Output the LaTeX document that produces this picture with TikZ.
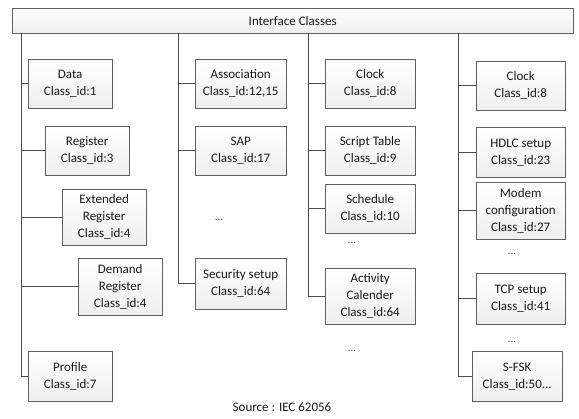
\documentclass[tikz,border=0pt]{standalone}
\usepackage{fontspec}
\setmainfont{Carlito}
\usepackage{tikz}
\usetikzlibrary{shadows}
\tikzset{
    class-box/.style = {draw=gray!75!black, thin, rectangle, top color=white, bottom color=gray!13, drop shadow={opacity=0.25, shadow xshift=1.2pt, shadow yshift=-1.2pt}, align=center, inner sep=2pt, anchor=north west, minimum height=49pt, font=\fontsize{13}{17}\selectfont, text=black!90},
    class-title/.style = {class-box, minimum width=561pt, minimum height=25pt},
    more-dots/.style = {font=\fontsize{11}{12}\selectfont, text=black!70},
    trunk/.style = {draw=black!70, thin},
}

\begin{document}
\begin{tikzpicture}[x=1pt, y=-1pt]
\useasboundingbox (0,0) rectangle (579,419);
\node[class-title] (title) at (12,8) {Interface Classes};

% column trunks
\coordinate (t1) at (21,33);
\coordinate (t2) at (178,33);
\coordinate (t3) at (308,33);
\coordinate (t4) at (458,33);

% first column
\node[class-box, minimum width=84pt] (data) at (28,59) {Data\\Class\_id:1};
\node[class-box, minimum width=84pt] (register) at (45,126) {Register\\Class\_id:3};
\node[class-box, minimum width=84pt, minimum height=56pt] (extreg) at (62,189) {Extended\\Register\\Class\_id:4};
\node[class-box, minimum width=84pt, minimum height=57pt] (demreg) at (78,258) {Demand\\Register\\Class\_id:4};
\node[class-box, minimum width=84pt, minimum height=50pt] (profile) at (28,351) {Profile\\Class\_id:7};

% second column
\node[class-box, minimum width=91pt] (assoc) at (195,59) {Association\\Class\_id:12,15};
\node[class-box, minimum width=91pt] (sap) at (195,126) {SAP\\Class\_id:17};
\node[more-dots] (dots2) at (219,220) {...};
\node[class-box, minimum width=91pt, minimum height=51pt] (security) at (195,258) {Security setup\\Class\_id:64};

% third column
\node[class-box, minimum width=90pt] (clock) at (325,59) {Clock\\Class\_id:8};
\node[class-box, minimum width=90pt] (script) at (325,126) {Script Table\\Class\_id:9};
\node[class-box, minimum width=90pt] (schedule) at (325,184) {Schedule\\Class\_id:10};
\node[more-dots] (dots3a) at (352,243) {...};
\node[class-box, minimum width=90pt, minimum height=56pt] (activity) at (325,268) {Activity\\Calender\\Class\_id:64};
\node[more-dots] (dots3b) at (352,351) {...};

% fourth column
\node[class-box, minimum width=89pt] (clockb) at (476,61) {Clock\\Class\_id:8};
\node[class-box, minimum width=89pt, minimum height=50pt] (hdlc) at (476,127) {HDLC setup\\Class\_id:23};
\node[class-box, minimum width=89pt, minimum height=57pt] (modem) at (476,182) {Modem\\configuration\\Class\_id:27};
\node[more-dots] (dots4a) at (512,254) {...};
\node[class-box, minimum width=89pt, minimum height=51pt] (tcp) at (476,273) {TCP setup\\Class\_id:41};
\node[more-dots] (dots4b) at (512,342) {...};
\node[class-box, minimum width=90pt, minimum height=50pt] (sfsk) at (472,351) {S-FSK\\Class\_id:50...};

\node[font=\fontsize{13}{15}\selectfont, text=black!90] (source) at (282,407) {Source : IEC 62056};

% connectors
\draw[trunk] (t1) -- (t1 |- profile.west) -- (profile.west);
\foreach \n in {data,register,extreg,demreg}
    \draw[trunk] (t1 |- \n.west) -- (\n.west);
\draw[trunk] (t2) -- (t2 |- security.west) -- (security.west);
\foreach \n in {assoc,sap}
    \draw[trunk] (t2 |- \n.west) -- (\n.west);
\draw[trunk] (t3) -- (t3 |- activity.west) -- (activity.west);
\foreach \n in {clock,script,schedule}
    \draw[trunk] (t3 |- \n.west) -- (\n.west);
\draw[trunk] (t4) -- (t4 |- sfsk.west) -- (sfsk.west);
\foreach \n in {clockb,hdlc,modem,tcp}
    \draw[trunk] (t4 |- \n.west) -- (\n.west);
\end{tikzpicture}
\end{document}
